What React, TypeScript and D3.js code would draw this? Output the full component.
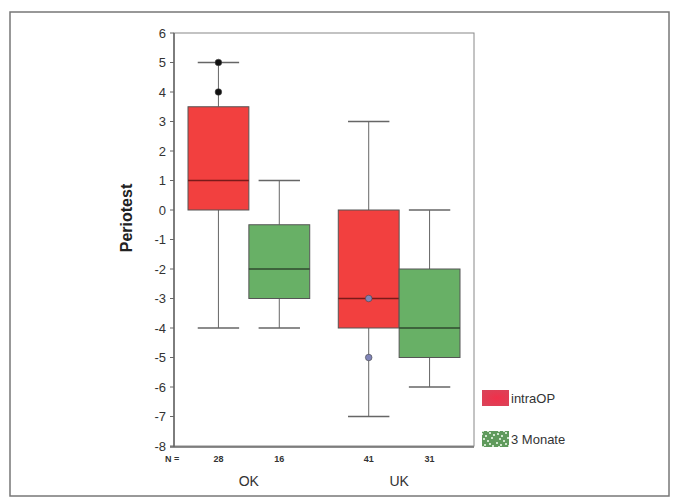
import React from "react";
import * as d3 from "d3";

const groups = ["OK", "UK"];
const series = ["intraOP", "3 Monate"];
const nCounts = [28, 16, 41, 31];
// [whiskerLow, q1, median, q3, whiskerHigh]
const okIntra = [-4, 0, 1, 3.5, 5];
const okMonate = [-4, -3, -2, -0.5, 1];
const ukIntra = [-7, -4, -3, 0, 3];
const ukMonate = [-6, -5, -4, -2, 0];
const okIntraOutliers = [5, 4];
const ukIntraOutliers = [-3, -5];
const yTicks = [6, 5, 4, 3, 2, 1, 0, -1, -2, -3, -4, -5, -6, -7, -8];

const boxes = [
  { g: 0, s: 0, v: okIntra, out: okIntraOutliers, oc: "#111" },
  { g: 0, s: 1, v: okMonate, out: [] as number[], oc: "#111" },
  { g: 1, s: 0, v: ukIntra, out: ukIntraOutliers, oc: "#8084b8" },
  { g: 1, s: 1, v: ukMonate, out: [] as number[], oc: "#111" },
];

const fills = ["#f2403f", "#68b066"];
const medColors = ["#7a1a1a", "#2f4a2f"];

export default function App() {
  const y = d3.scaleLinear().domain([-8, 6]).range([446, 33]);
  const x0 = d3.scaleBand().domain(groups).range([188, 460]).paddingInner(0.19);
  const x1 = d3.scaleBand().domain(series).range([0, x0.bandwidth()]);
  const bw = x1.bandwidth();
  const font = "Arial, 'Liberation Sans', sans-serif";
  const patternSquares = [
    [1, 1], [5, 3], [9, 0], [3, 6], [7, 8], [11, 5], [0, 10], [4, 12], [9, 11], [12, 13], [2, 14], [7, 15], [13, 2],
  ];
  return (
    <svg width={674} height={499} style={{ position: "absolute", left: 0, top: 0 }}>
      <defs>
        <pattern id="grn" width="16" height="16" patternUnits="userSpaceOnUse">
          <rect width="16" height="16" fill="#5f9a5c" />
          {patternSquares.map(([a, b], i) => (
            <rect key={i} x={a} y={b} width={2} height={2} fill="#cfe6cc" />
          ))}
        </pattern>
        <radialGradient id="redg" cx="0.55" cy="0.5" r="0.7">
          <stop offset="0" stopColor="#f0304a" />
          <stop offset="1" stopColor="#d8445a" />
        </radialGradient>
      </defs>
      <rect x={0} y={0} width={674} height={499} fill="#fff" />
      <rect x={10} y={12} width={659} height={484} fill="none" stroke="#777" strokeWidth={1.5} />
      {/* plot box */}
      <rect x={174} y={33} width={300} height={413} fill="none" stroke="#888" strokeWidth={1} />
      <line x1={174} x2={174} y1={33} y2={447} stroke="#666" strokeWidth={1.5} />
      <line x1={170} x2={474} y1={447} y2={447} stroke="#666" strokeWidth={1.5} />
      {yTicks.map((t) => (
        <g key={t}>
          <line x1={170} x2={174} y1={y(t)} y2={y(t)} stroke="#666" />
          <text x={166} y={y(t)} dy="0.35em" textAnchor="end" fontFamily={font} fontSize={13} fill="#333">
            {t}
          </text>
        </g>
      ))}
      <text
        transform={`translate(132,218) rotate(-90)`}
        textAnchor="middle"
        fontFamily={font}
        fontSize={16}
        fontWeight="bold"
        fill="#222"
      >
        Periotest
      </text>
      {boxes.map((b, i) => {
        const left = (x0(groups[b.g]) as number) + (x1(series[b.s]) as number);
        const cx = left + bw / 2;
        const [wl, q1, md, q3, wh] = b.v;
        return (
          <g key={i}>
            <line x1={cx} x2={cx} y1={y(wh)} y2={y(q3)} stroke="#666" />
            <line x1={cx} x2={cx} y1={y(q1)} y2={y(wl)} stroke="#666" />
            <line x1={cx - bw * 0.34} x2={cx + bw * 0.34} y1={y(wh)} y2={y(wh)} stroke="#666" strokeWidth={1.3} />
            <line x1={cx - bw * 0.34} x2={cx + bw * 0.34} y1={y(wl)} y2={y(wl)} stroke="#666" strokeWidth={1.3} />
            <rect x={left} y={y(q3)} width={bw} height={y(q1) - y(q3)} fill={fills[b.s]} stroke="#555" strokeWidth={1} />
            <line x1={left} x2={left + bw} y1={y(md)} y2={y(md)} stroke={medColors[b.s]} strokeWidth={1.3} />
            {b.out.map((o, j) => (
              <circle key={j} cx={cx} cy={y(o)} r={3.3} fill={b.oc} stroke="#444" strokeWidth={0.6} />
            ))}
            <text x={cx} y={462} textAnchor="middle" fontFamily={font} fontSize={9} fontWeight="bold" fill="#333">
              {nCounts[i]}
            </text>
          </g>
        );
      })}
      <text x={165} y={462} fontFamily={font} fontSize={9} fontWeight="bold" fill="#333">
        N =
      </text>
      {groups.map((g) => (
        <text
          key={g}
          x={(x0(g) as number) + x0.bandwidth() / 2}
          y={486}
          textAnchor="middle"
          fontFamily={font}
          fontSize={14}
          fill="#333"
        >
          {g}
        </text>
      ))}
      {/* legend */}
      <rect x={482} y={390} width={27} height={16} fill="url(#redg)" />
      <text x={511} y={403} fontFamily={font} fontSize={13} fill="#333">
        intraOP
      </text>
      <rect x={482} y={431} width={27} height={16} fill="url(#grn)" />
      <text x={511} y={444} fontFamily={font} fontSize={13} fill="#333">
        3 Monate
      </text>
    </svg>
  );
}
